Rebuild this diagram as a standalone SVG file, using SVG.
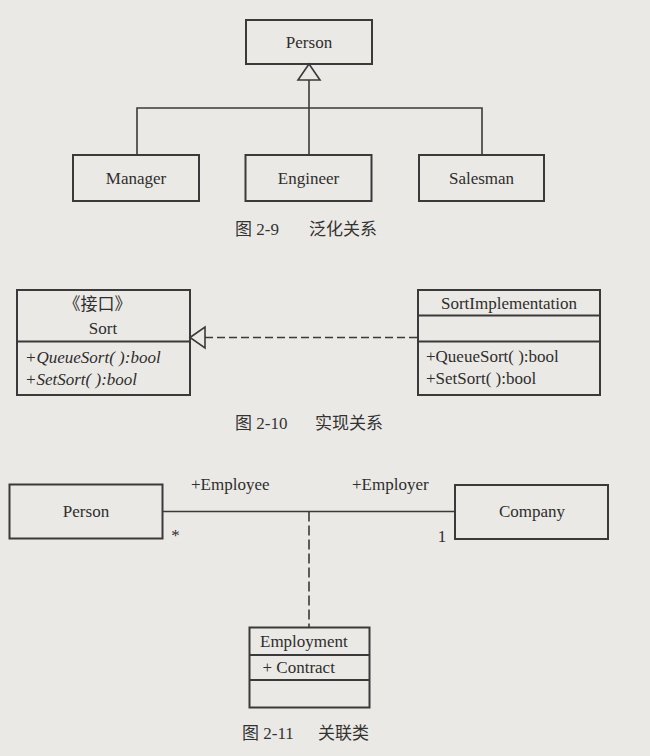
<svg xmlns="http://www.w3.org/2000/svg" width="650" height="756" viewBox="0 0 650 756">
<defs>
<style>
.bg{fill:#ebe9e5}
.box{fill:none;stroke:#3a3a3a;stroke-width:2}
.div{stroke:#3a3a3a;stroke-width:1.8}
.ln{fill:none;stroke:#3a3a3a;stroke-width:1.6}
.dash{fill:none;stroke:#3a3a3a;stroke-width:1.6;stroke-dasharray:8 4}
.dashv{fill:none;stroke:#3a3a3a;stroke-width:1.6;stroke-dasharray:10 4}
.tri{fill:#ebe9e5;stroke:#3a3a3a;stroke-width:1.6}
.t{font-family:"Liberation Serif","Noto Sans CJK SC",serif;font-size:17px;fill:#2e2e2e}
.c{text-anchor:middle}
.i{font-style:italic}
.cap{font-family:"Liberation Serif","Noto Sans CJK SC",serif;font-size:17px;fill:#333}
</style>
</defs>
<rect class="bg" x="0" y="0" width="650" height="756"/>

<g id="connectors">
  <!-- fig 2-9 generalization -->
  <polygon class="tri" points="309,64 298,80 320,80"/>
  <line class="ln" x1="309" y1="80" x2="309" y2="155"/>
  <polyline class="ln" points="137,155 137,108 482,108 482,155"/>
  <!-- fig 2-10 realization -->
  <line class="dash" x1="205" y1="337.5" x2="418" y2="337.5"/>
  <polygon class="tri" points="190,337.5 205,327 205,348"/>
  <!-- fig 2-11 association -->
  <line class="ln" x1="162.5" y1="511.5" x2="455" y2="511.5"/>
  <line class="dashv" x1="309" y1="511.5" x2="309" y2="627"/>
</g>

<g id="person1">
  <rect class="box" x="246" y="20" width="126" height="44"/>
  <text class="t c" x="309" y="48">Person</text>
</g>
<g id="manager">
  <rect class="box" x="73" y="155" width="126" height="46"/>
  <text class="t c" x="136" y="184">Manager</text>
</g>
<g id="engineer">
  <rect class="box" x="245.5" y="155" width="126" height="46"/>
  <text class="t c" x="308.5" y="184">Engineer</text>
</g>
<g id="salesman">
  <rect class="box" x="419" y="155" width="125" height="46"/>
  <text class="t c" x="481.5" y="184">Salesman</text>
</g>
<g id="caption-2-9">
  <text class="cap" x="235" y="235">图 2-9</text>
  <text class="cap" x="309" y="235">泛化关系</text>
</g>

<g id="sort">
  <rect class="box" x="17" y="290" width="173" height="105"/>
  <line class="div" x1="17" y1="341.5" x2="190" y2="341.5"/>
  <text class="t c" x="97.5" y="310">《接口》</text>
  <text class="t c" x="103" y="334">Sort</text>
  <text class="t i" x="25" y="363">+QueueSort( ):bool</text>
  <text class="t i" x="25" y="385">+SetSort( ):bool</text>
</g>
<g id="sortimplementation">
  <rect class="box" x="418" y="290" width="182" height="105"/>
  <line class="div" x1="418" y1="315.5" x2="600" y2="315.5"/>
  <line class="div" x1="418" y1="341.5" x2="600" y2="341.5"/>
  <text class="t c" x="509" y="309">SortImplementation</text>
  <text class="t" x="426" y="362">+QueueSort( ):bool</text>
  <text class="t" x="426" y="384">+SetSort( ):bool</text>
</g>
<g id="caption-2-10">
  <text class="cap" x="235" y="429">图 2-10</text>
  <text class="cap" x="315" y="429">实现关系</text>
</g>

<g id="person2">
  <rect class="box" x="9.5" y="484.5" width="153" height="54"/>
  <text class="t c" x="86" y="517">Person</text>
</g>
<g id="company">
  <rect class="box" x="455" y="485" width="153" height="54"/>
  <text class="t c" x="532" y="517">Company</text>
</g>
<g id="assoc-labels">
  <text class="t" x="191" y="490">+Employee</text>
  <text class="t" x="352" y="490">+Employer</text>
  <text class="t c" x="175.5" y="541">*</text>
  <text class="t c" x="442" y="542">1</text>
</g>
<g id="employment">
  <rect class="box" x="249.5" y="627.5" width="120" height="80"/>
  <line class="div" x1="249.5" y1="655" x2="369.5" y2="655"/>
  <line class="div" x1="249.5" y1="680" x2="369.5" y2="680"/>
  <text class="t" x="260" y="647">Employment</text>
  <text class="t" x="262.5" y="673">+ Contract</text>
</g>
<g id="caption-2-11">
  <text class="cap" x="242" y="739">图 2-11</text>
  <text class="cap" x="318" y="739">关联类</text>
</g>
</svg>
